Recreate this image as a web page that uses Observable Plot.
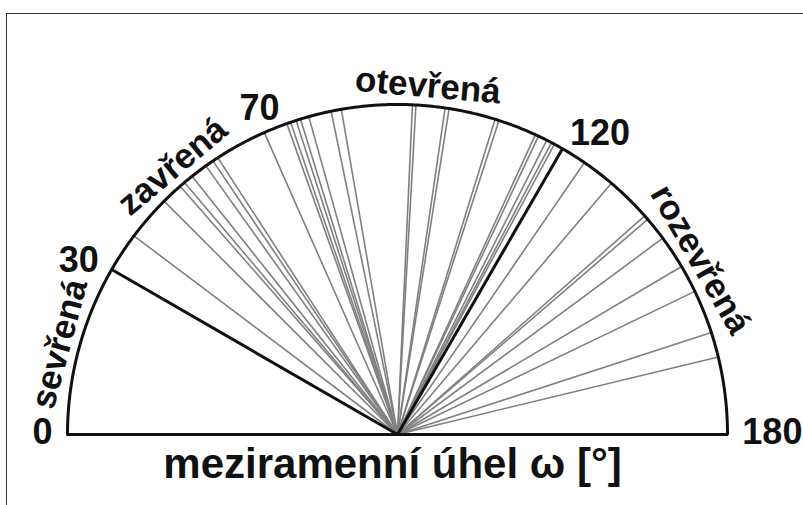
<!DOCTYPE html>
<html>
<head>
<meta charset="utf-8">
<script src="https://cdn.jsdelivr.net/npm/d3@7"></script>
<script src="https://cdn.jsdelivr.net/npm/@observablehq/plot@0.6"></script>
<style>
  html, body { margin: 0; padding: 0; background: #fff; }
  #wrap { position: relative; width: 803px; height: 505px; overflow: hidden; }
  #frame { position: absolute; left: 6px; top: 13px; width: 900px; height: 600px;
           border-left: 1.5px solid #333; border-top: 1.5px solid #333; pointer-events: none; }
</style>
</head>
<body>
<div id="wrap"><div id="frame"></div></div>
<script>
// measured interarm angles ω [°]
const grayAngles = [37, 45, 48.8, 49.8, 51.5, 54.5, 56, 57, 66.2,
  70.4, 71.1, 72.1, 72.9, 74.4, 78.4, 80.2,
  92.6, 93.2, 98.3, 99.0, 107.2, 107.9,
  114.7, 115.3, 116.9, 117.8, 118.4,
  124.5, 130.4, 138.5, 139.3, 143.5, 149.4, 154.3, 162.0, 166.4];
const boldAngles = [30, 120];
const tickValues = [0, 30, 70, 120, 180];
const categories = ["sevřená", "zavřená", "otevřená", "rozevřená"];
const axisTitle = "meziramenní úhel ω [°]";

const rad = a => a * Math.PI / 180;
const px = (a, r = 1) => -Math.cos(rad(a)) * r;
const py = (a, r = 1) => Math.sin(rad(a)) * r;

const arcPts = d3.range(0, 180.01, 0.5).concat([0]);
const catAngles = categories.map((c, i) => ({name: c, a: (tickValues[i] + tickValues[i + 1]) / 2}));
const leftTicks = tickValues.filter(d => d < 90);
const rightTicks = tickValues.filter(d => d > 90);

const font = "'Liberation Sans', Arial, sans-serif";
const tickOpts = (anchor) => ({x: d => px(d, 1.045), y: d => py(d, 1.045), text: d => String(d),
  textAnchor: anchor, fontSize: 36, fontWeight: "bold", fill: "#111", dy: -2});

const chart = Plot.plot({
  width: 803,
  height: 505,
  margin: 0,
  x: {domain: [-1, 1], range: [67, 727], axis: null},
  y: {domain: [0, 1], range: [434, 104], axis: null},
  style: {fontFamily: font, background: "transparent"},
  marks: [
    Plot.link(grayAngles, {x1: 0, y1: 0, x2: d => px(d), y2: d => py(d), stroke: "#808080", strokeWidth: 1.6}),
    Plot.link(boldAngles, {x1: 0, y1: 0, x2: d => px(d), y2: d => py(d), stroke: "#111", strokeWidth: 3}),
    Plot.line(arcPts, {x: d => px(d), y: d => py(d), stroke: "#111", strokeWidth: 3, strokeLinejoin: "miter"}),
    Plot.text(leftTicks, tickOpts("end")),
    Plot.text(rightTicks, tickOpts("start")),
    Plot.text(catAngles, {x: d => px(d.a, 1.06), y: d => py(d.a, 1.06), text: "name",
      rotate: d => d.a - 90, fontSize: 35, fontWeight: "bold", fill: "#111"}),
    Plot.text([axisTitle], {x: 0, y: -0.09, text: d => d, fontSize: 42, fontWeight: "bold", fill: "#111", dx: -5})
  ]
});
document.getElementById("wrap").prepend(chart);
chart.style.position = "absolute";
chart.style.left = "0";
chart.style.top = "0";
</script>
</body>
</html>
